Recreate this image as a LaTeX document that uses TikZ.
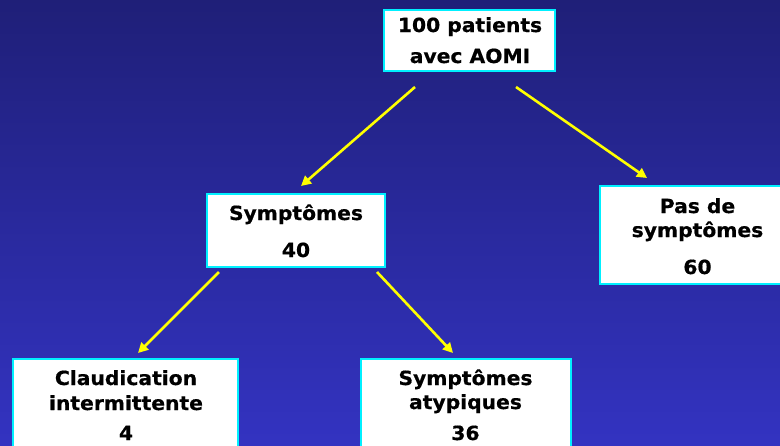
\documentclass[tikz,border=0pt]{standalone}
\usepackage{fontspec}
\newfontfamily\vf[FakeStretch=1.04,BoldFeatures={FakeBold=0.6}]{DejaVu Sans}
\usetikzlibrary{arrows.meta}
\definecolor{bgtop}{RGB}{31,31,120}
\definecolor{bgbot}{RGB}{51,51,193}
\definecolor{boxline}{RGB}{0,240,255}
\definecolor{arr}{RGB}{255,255,0}
\tikzset{
  box/.style={draw=boxline, line width=1.8pt, fill=white, inner sep=0pt},
  lbl/.style={anchor=base, inner sep=0pt, font=\vf\bfseries\fontsize{19.5}{22}\selectfont, text=black},
  link/.style={draw=arr, line width=2.6pt, -{Triangle[length=10pt,width=10pt]}}
}
\begin{document}
\begin{tikzpicture}[x=1pt,y=-1pt]
\useasboundingbox (0,0) rectangle (780,445);
\shade[top color=bgtop, bottom color=bgbot] (0,0) rectangle (780,445);
% boxes
\node[box, minimum width=171pt, minimum height=61pt] (top) at (469.5,40.5) {};
\node[box, minimum width=178pt, minimum height=73pt] (sym) at (296,230.5) {};
\node[box, minimum width=195pt, minimum height=98pt] (pas) at (697.5,235) {};
\node[box, minimum width=225pt, minimum height=101pt] (cla) at (125.5,409.5) {};
\node[box, minimum width=210pt, minimum height=101pt] (aty) at (466,409.5) {};
% texts
\node[lbl] (top1) at (470,32) {100 patients};
\node[lbl] (top2) at (470,63) {avec AOMI};
\node[lbl] (sym1) at (296,220) {Symptômes};
\node[lbl] (sym2) at (296,257) {40};
\node[lbl] (pas1) at (697.5,213) {Pas de};
\node[lbl] (pas2) at (697.5,237) {symptômes};
\node[lbl] (pas3) at (697.5,274) {60};
\node[lbl] (cla1) at (126,385) {Claudication};
\node[lbl] (cla2) at (126,410) {intermittente};
\node[lbl] (cla3) at (126,440) {4};
\node[lbl] (aty1) at (465.5,385) {Symptômes};
\node[lbl] (aty2) at (465.5,409) {atypiques};
\node[lbl] (aty3) at (465.5,440) {36};
% connector ends
\coordinate (a1s) at (415,87);
\coordinate (a1e) at (301,186);
\coordinate (a2s) at (516,87);
\coordinate (a2e) at (647,178);
\coordinate (a3s) at (219,272);
\coordinate (a3e) at (138,353);
\coordinate (a4s) at (377,272);
\coordinate (a4e) at (453,353);
\draw[link] (a1s) -- (a1e);
\draw[link] (a2s) -- (a2e);
\draw[link] (a3s) -- (a3e);
\draw[link] (a4s) -- (a4e);
\end{tikzpicture}
\end{document}
